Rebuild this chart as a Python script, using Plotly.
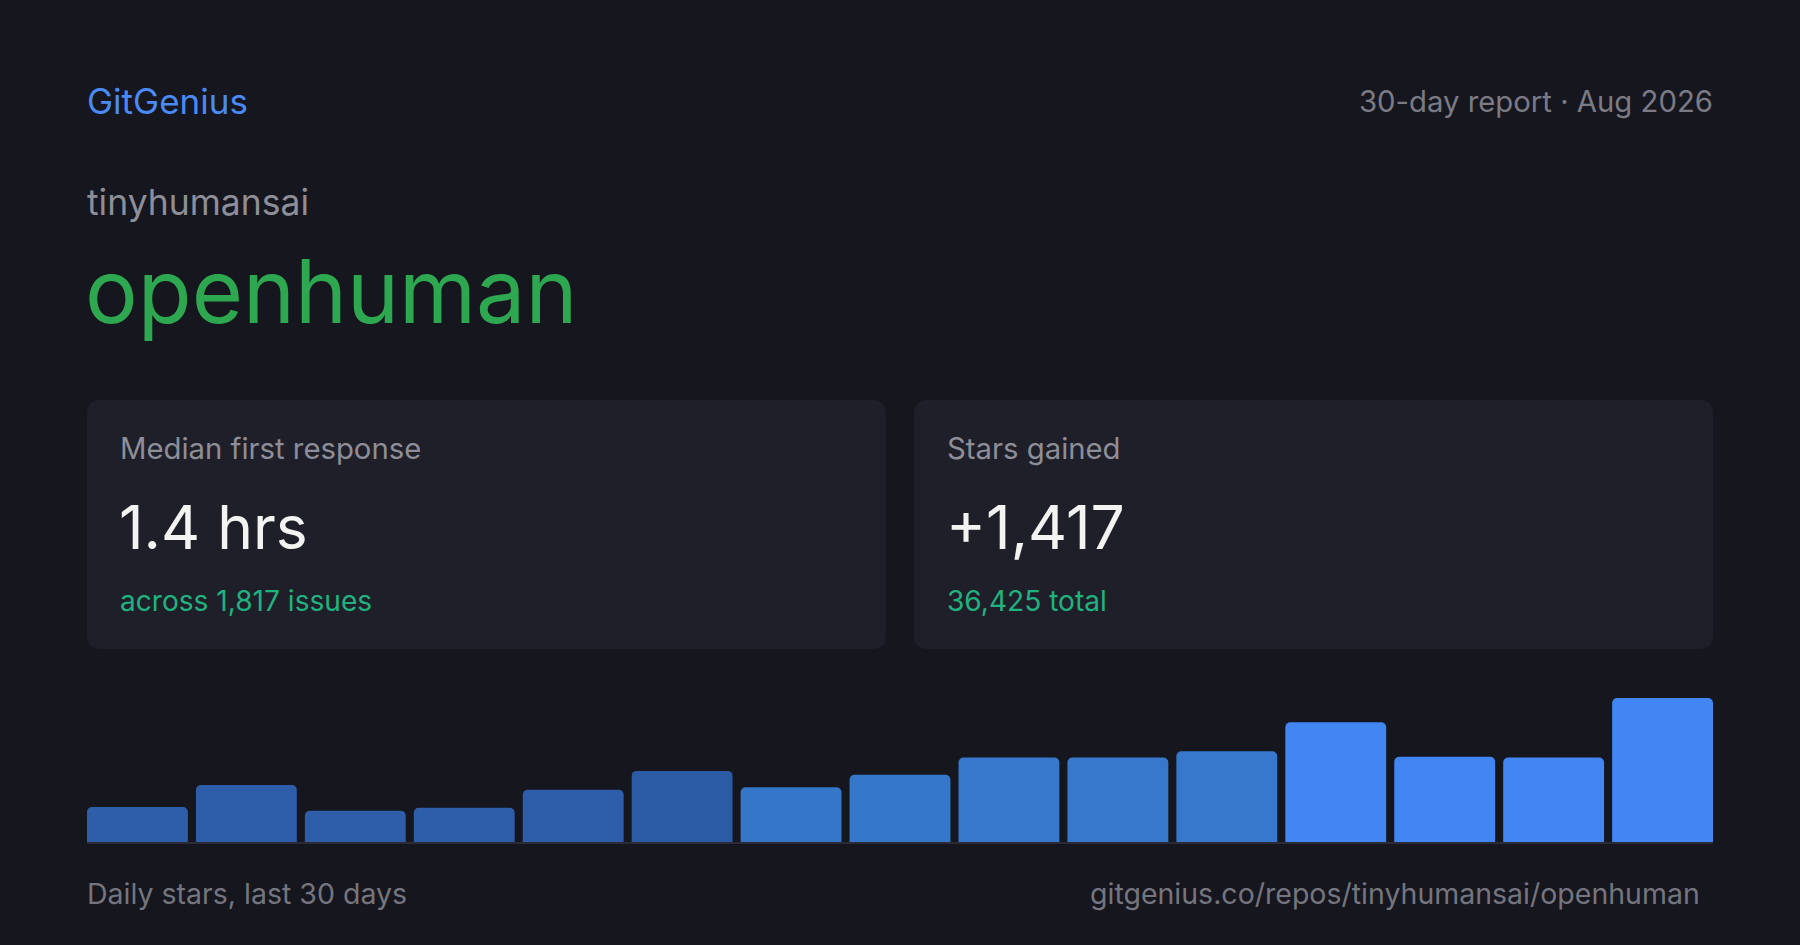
import plotly.graph_objects as go

# ---- data ----
days = [f"D{i+1}" for i in range(15)]
stars = [46, 74, 41, 45, 68, 92, 71, 87, 109, 109, 117, 154, 110, 109, 185]
bar_colors = ["#2e5ea9", "#2e5ea9", "#2e5ea9", "#2e5ea9", "#2e5ea9", "#2c5ba5",
              "#3576c8", "#3577c9", "#3778cc", "#3778cc", "#3778cc",
              "#4286f4", "#4286f4", "#4286f4", "#4286f4"]

brand = "GitGenius"
report = "30-day report · Aug 2026"
owner = "tinyhumansai"
repo = "openhuman"
card_labels = ["Median first response", "Stars gained"]
card_values = ["1.4 hrs", "+1,417"]
card_subs = ["across 1,817 issues", "36,425 total"]
footer_left = "Daily stars, last 30 days"
footer_right = "gitgenius.co/repos/tinyhumansai/openhuman"

W, H = 1800, 945
BG = "#16161e"
CARD = "#1f1f2a"
FONT = "Inter"
GAP = 0.074


def px(x):
    return x / W


def py(y):
    return 1 - y / H


def rrect(x0, y0, x1, y1, r):
    def P(x, y):
        return f"{px(x):.6f},{py(y):.6f}"
    return (f"M {P(x0 + r, y0)} L {P(x1 - r, y0)} Q {P(x1, y0)} {P(x1, y0 + r)} "
            f"L {P(x1, y1 - r)} Q {P(x1, y1)} {P(x1 - r, y1)} "
            f"L {P(x0 + r, y1)} Q {P(x0, y1)} {P(x0, y1 - r)} "
            f"L {P(x0, y0 + r)} Q {P(x0, y0)} {P(x0 + r, y0)} Z")


fig = go.Figure()
fig.add_trace(go.Bar(x=days, y=stars, marker=dict(color=bar_colors, cornerradius=5, line=dict(width=0)),
                     hoverinfo="skip"))

n = len(days)
fig.update_layout(
    width=W, height=H,
    paper_bgcolor=BG, plot_bgcolor=BG,
    margin=dict(l=0, r=0, t=0, b=0),
    showlegend=False,
    bargap=GAP,
    xaxis=dict(domain=[px(87), px(1713)], visible=False,
               range=[-0.5 + GAP / 2, n - 0.5 - GAP / 2], fixedrange=True),
    yaxis=dict(domain=[py(843), py(698)], visible=False, range=[0, max(stars)], fixedrange=True),
)

shapes = []
for (x0, x1) in [(87, 886), (914, 1713)]:
    shapes.append(dict(type="path", xref="paper", yref="paper", path=rrect(x0, 400, x1, 649, 14),
                       fillcolor=CARD, line=dict(width=0), layer="below"))
shapes.append(dict(type="line", xref="paper", yref="paper", x0=px(87), x1=px(1713), y0=py(843), y1=py(843),
                   line=dict(color="#2b2b37", width=2), layer="above"))
fig.update_layout(shapes=shapes)


def ann(text, x, y, size, color, anchor="left"):
    fig.add_annotation(text=text, x=px(x), y=py(y), xref="paper", yref="paper",
                       xanchor=anchor, yanchor="middle", showarrow=False,
                       borderpad=0, borderwidth=0,
                       font=dict(family=FONT, size=size, color=color))


ann(brand, 87, 101, 35, "#4a8af4")
ann(report, 1713, 101, 29.3, "#7b7b86", "right")
ann(owner, 87, 203, 35.5, "#8e8e98")
ann(repo, 85, 291, 88, "#2ea850")

for i, cx in enumerate([120, 947]):
    ann(card_labels[i], cx, 449, 29.3, "#8e8e98")
    ann(card_values[i], cx - 1, 527, 60.5, "#f3f3f1")
    ann(card_subs[i], cx, 601, 28.1, "#20b27f")

ann(footer_left, 87, 893, 28.5, "#75757f")
ann(footer_right, 1700, 893, 28.5, "#75757f", "right")

fig.write_html("out.html", config={"displayModeBar": False},
               post_script="document.body.style.margin='0';document.body.style.background='#16161e';")
